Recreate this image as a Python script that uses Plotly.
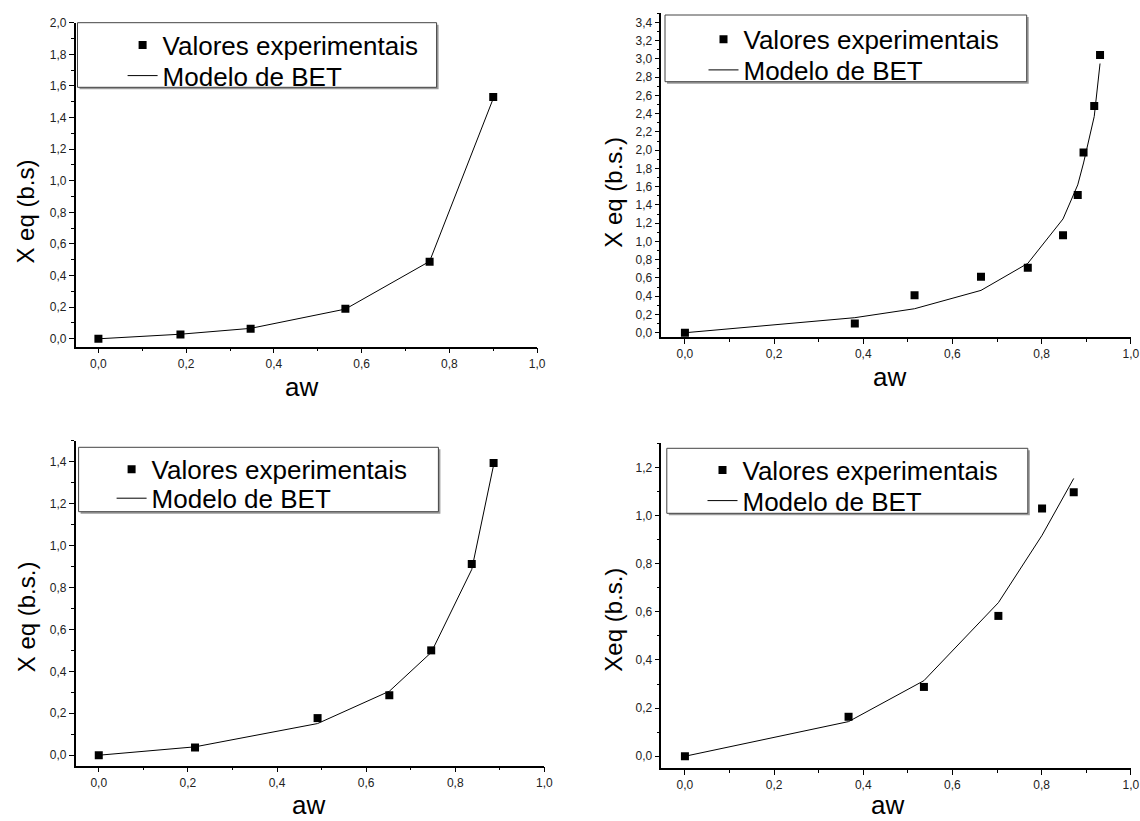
import plotly.graph_objects as go

# ---------------- data ----------------
aw1 = [0.0, 0.187, 0.347, 0.563, 0.755, 0.900]
exp1 = [0.0, 0.027, 0.063, 0.190, 0.487, 1.530]
bet1 = [0.0, 0.029, 0.066, 0.188, 0.490, 1.520]

aw2 = [0.0, 0.381, 0.515, 0.664, 0.769, 0.848, 0.881, 0.894, 0.918, 0.931]
exp2 = [0.0, 0.102, 0.410, 0.614, 0.713, 1.068, 1.510, 1.975, 2.483, 3.042]
bet2 = [0.0, 0.165, 0.263, 0.464, 0.760, 1.247, 1.620, 1.860, 2.370, 2.950]

aw3 = [0.0, 0.216, 0.491, 0.652, 0.746, 0.837, 0.886]
exp3 = [0.0, 0.037, 0.177, 0.286, 0.500, 0.912, 1.394]
bet3 = [0.0, 0.040, 0.151, 0.305, 0.490, 0.886, 1.384]

aw4 = [0.0, 0.367, 0.536, 0.703, 0.801, 0.872]
exp4 = [0.0, 0.164, 0.288, 0.583, 1.029, 1.097]
bet4 = [0.0, 0.144, 0.314, 0.638, 0.918, 1.154]

series_names = ["Valores experimentais", "Modelo de BET"]
x_title = "aw"
y_titles = ["X eq (b.s)", "X eq (b.s.)", "X eq (b.s.)", "Xeq (b.s.)"]

W, H = 1140, 821
FONT = "Liberation Sans, Arial, sans-serif"

panels = [
    dict(aw=aw1, exp=exp1, bet=bet1, xr=[-0.052, 1.0], yr=[-0.05, 2.0],
         px=(75.6, 537.1), py=(22.7, 346.7),
         box=(77.5, 22.7, 436.6, 87.3), txt=162.6, ent=(45, 75.7),
         ytit=(25.6, 212), xtit=(301, 387)),
    dict(aw=aw2, exp=exp2, bet=bet2, xr=[-0.053, 1.0], yr=[-0.05, 3.5],
         px=(661.3, 1130.8), py=(13.3, 337.3),
         box=(665, 15, 1026.7, 81.7), txt=743.5, ent=(39.3, 70),
         ytit=(612.7, 192), xtit=(889, 377)),
    dict(aw=aw3, exp=exp3, bet=bet3, xr=[-0.052, 1.0], yr=[-0.05, 1.5],
         px=(75.6, 544.4), py=(440.7, 765.7),
         box=(78.6, 447.3, 438.4, 511.7), txt=151.6, ent=(469.3, 498.3),
         ytit=(26.3, 617), xtit=(308, None)),
    dict(aw=aw4, exp=exp4, bet=bet4, xr=[-0.053, 1.0], yr=[-0.05, 1.3],
         px=(661.3, 1130.8), py=(443.3, 768.3),
         box=(666.8, 448.3, 1027.8, 513.3), txt=742.5, ent=(470, 500.7),
         ytit=(612.7, 620), xtit=(887, None)),
]

fig = go.Figure()
layout = dict(template="none", width=W, height=H, showlegend=True,
              margin=dict(l=0, r=0, t=0, b=0, pad=0, autoexpand=False),
              paper_bgcolor="white", plot_bgcolor="white",
              separators=",.", font=dict(family=FONT, color="black"),
              annotations=[], shapes=[])

TEXT_OFF = 40  # legend text offset from legend left edge

for i, p in enumerate(panels):
    n = "" if i == 0 else str(i + 1)
    leg_exp = "legend" if i == 0 else "legend" + str(2 * i + 1)
    leg_bet = "legend" + str(2 * i + 2)
    fig.add_trace(go.Scatter(x=p["aw"], y=p["bet"], mode="lines",
                             name=series_names[1], showlegend=True,
                             line=dict(color="black", width=1),
                             xaxis="x" + n, yaxis="y" + n, legend=leg_bet))
    fig.add_trace(go.Scatter(x=p["aw"], y=p["exp"], mode="markers",
                             name=series_names[0], showlegend=True,
                             marker=dict(symbol="square", size=8, color="black"),
                             xaxis="x" + n, yaxis="y" + n, legend=leg_exp))
    axcommon = dict(showline=True, linecolor="black", linewidth=1.5,
                    ticks="outside", ticklen=5, tickwidth=1.2, tickcolor="black",
                    showgrid=False, zeroline=False, tickformat=".1f",
                    automargin=False,
                    tickfont=dict(size=12, family=FONT, color="#222"),
                    dtick=0.2, tick0=0,
                    minor=dict(ticks="outside", ticklen=3, tickwidth=1,
                               tickcolor="black", dtick=0.1, showgrid=False))
    layout["xaxis" + n] = dict(axcommon, range=p["xr"],
                               domain=[p["px"][0] / W, p["px"][1] / W],
                               anchor="y" + n)
    layout["yaxis" + n] = dict(axcommon, range=p["yr"],
                               domain=[1 - p["py"][1] / H, 1 - p["py"][0] / H],
                               anchor="x" + n)
    # legend frame (with light shadow)
    x0, y0, x1, y1 = p["box"]
    layout["shapes"].append(dict(type="rect", xref="paper", yref="paper",
                                 x0=(x0 + 2) / W, x1=(x1 + 2) / W,
                                 y0=1 - (y1 + 2) / H, y1=1 - (y0 + 2) / H,
                                 line=dict(width=0), fillcolor="#9a9a9a",
                                 layer="above"))
    layout["shapes"].append(dict(type="rect", xref="paper", yref="paper",
                                 x0=x0 / W, x1=x1 / W,
                                 y0=1 - y1 / H, y1=1 - y0 / H,
                                 line=dict(width=1, color="#444"),
                                 fillcolor="white", layer="above"))
    for legname, ey in ((leg_exp, p["ent"][0]), (leg_bet, p["ent"][1])):
        layout[legname] = dict(x=(p["txt"] - TEXT_OFF) / W, y=1 - ey / H,
                               xanchor="left", yanchor="middle", visible=True,
                               bgcolor="rgba(0,0,0,0)", borderwidth=0,
                               font=dict(size=26, family=FONT, color="black"))
    layout["annotations"].append(dict(
        text=y_titles[i], x=p["ytit"][0] / W, y=1 - p["ytit"][1] / H,
        xref="paper", yref="paper", showarrow=False, textangle=-90,
        xanchor="center", yanchor="middle",
        font=dict(size=24, family=FONT, color="black")))
    if p["xtit"][1] is None:
        # title sitting on the bottom edge of the page
        layout["annotations"].append(dict(
            text=x_title, x=p["xtit"][0] / W, y=0,
            xref="paper", yref="paper", showarrow=False,
            xanchor="center", yanchor="bottom", borderpad=0,
            font=dict(size=26, family=FONT, color="black")))
    else:
        layout["annotations"].append(dict(
            text=x_title, x=p["xtit"][0] / W, y=1 - p["xtit"][1] / H,
            xref="paper", yref="paper", showarrow=False,
            xanchor="center", yanchor="middle",
            font=dict(size=26, family=FONT, color="black")))

fig.update_layout(**layout)
fig.write_html("out.html", config={"displayModeBar": False},
               post_script="document.body.style.margin='0';"
                           "document.body.style.overflow='hidden';")
